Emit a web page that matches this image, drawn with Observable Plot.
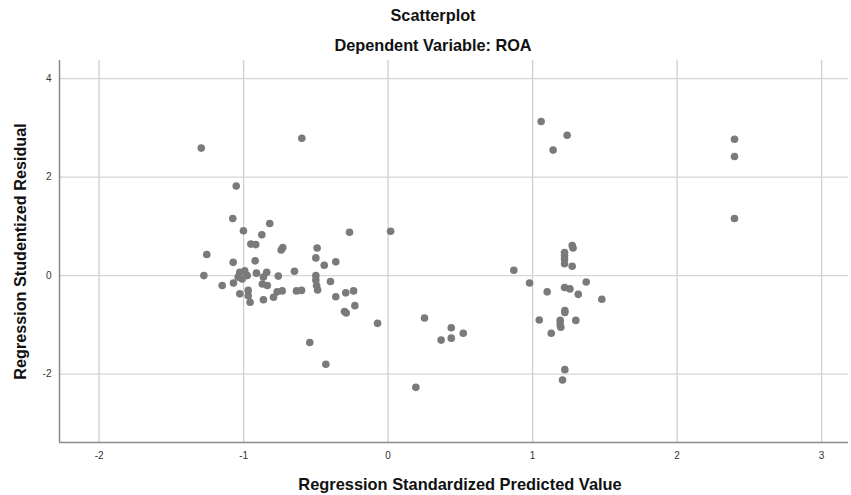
<!DOCTYPE html>
<html>
<head>
<meta charset="utf-8">
<script src="https://cdn.jsdelivr.net/npm/d3@7"></script>
<script src="https://cdn.jsdelivr.net/npm/@observablehq/plot@0.6"></script>
<style>
  html, body { margin: 0; padding: 0; background: #fff; }
  #chart svg { display: block; }
</style>
</head>
<body>
<div id="chart"></div>
<script>
// Regression standardized predicted value (x) and studentized residual (y)
const predicted = [
  -1.293, -0.597, -1.051, -1.075, -1.001, -0.819, -0.874, -0.950, -0.916, -0.729,
  -0.740, -0.491, -0.267, 0.017, -1.255, -1.072, -0.920, -0.500, -0.442, -0.362,
  -0.648, -1.275, -1.148, -1.026, -0.992, -1.038, -0.975, -1.010, -0.911, -0.840,
  -0.863, -0.760, -1.070, -0.870, -0.836, -0.500, -0.500, -0.495, -0.488, -0.399,
  -0.634, -0.599, -0.768, -0.733, -1.026, -0.968, -0.968, -0.955, -0.863, -0.793,
  -0.362, -0.293, -0.239, -0.230, -0.302, -0.290, -0.542, -0.431, -0.073, 0.192,
  0.252, 0.437, 0.367, 0.437, 0.520,
  0.870, 0.979, 1.101, 1.046, 1.129, 1.223, 1.223, 1.191, 1.191, 1.195,
  1.299, 1.223, 1.207, 1.221, 1.258, 1.316, 1.371, 1.479, 1.221, 1.274,
  1.274, 1.280, 1.221, 1.221, 1.221, 1.059, 1.239, 1.142, 2.397, 2.397, 2.397
];
const residual = [
  2.59, 2.79, 1.82, 1.16, 0.91, 1.06, 0.83, 0.64, 0.63, 0.57,
  0.52, 0.56, 0.88, 0.90, 0.43, 0.27, 0.30, 0.36, 0.21, 0.28,
  0.09, 0.00, -0.20, 0.07, 0.10, -0.03, 0.00, -0.07, 0.05, 0.07,
  -0.03, -0.01, -0.15, -0.17, -0.20, 0.00, -0.09, -0.20, -0.29, -0.12,
  -0.31, -0.30, -0.33, -0.31, -0.37, -0.30, -0.41, -0.54, -0.49, -0.44,
  -0.43, -0.35, -0.31, -0.61, -0.73, -0.76, -1.36, -1.80, -0.97, -2.27,
  -0.86, -1.06, -1.31, -1.27, -1.17,
  0.11, -0.15, -0.33, -0.90, -1.17, -0.71, -0.75, -0.91, -0.99, -1.05,
  -0.91, -1.91, -2.12, -0.24, -0.27, -0.38, -0.13, -0.48, 0.24, 0.19,
  0.61, 0.56, 0.47, 0.41, 0.34, 3.13, 2.85, 2.55, 2.77, 2.42, 1.16
];
const xTicks = [-2, -1, 0, 1, 2, 3];
const yTicks = [-2, 0, 2, 4];
const xDomain = [-2.274, 3.186];
const yDomain = [-3.39, 4.37];
const titleText = ["Scatterplot"];
const subtitleText = ["Dependent Variable: ROA"];
const xLabel = ["Regression Standardized Predicted Value"];
const yLabel = ["Regression Studentized Residual"];

const points = predicted.map((x, i) => ({x, y: residual[i]}));
const font = "Liberation Sans, Arial, sans-serif";
const fmt = d => String(d); // plain hyphen-minus like the reference

const chart = Plot.plot({
  width: 851,
  height: 495,
  marginLeft: 59,
  marginRight: 3,
  marginTop: 60,
  marginBottom: 53,
  style: {fontFamily: font, background: "#fff", color: "#333"},
  x: {domain: xDomain, ticks: xTicks},
  y: {domain: yDomain, ticks: yTicks},
  marks: [
    Plot.gridX(xTicks, {stroke: "#cfcfcf", strokeOpacity: 1, strokeWidth: 1.3}),
    Plot.gridY(yTicks, {stroke: "#d6d6d6", strokeOpacity: 1, strokeWidth: 1.3}),
    Plot.ruleX([xDomain[0]], {stroke: "#8a8a8a", strokeWidth: 1.5}),
    Plot.ruleY([yDomain[0]], {stroke: "#8a8a8a", strokeWidth: 1.5}),
    Plot.axisX(xTicks, {tickSize: 0, tickPadding: 9, fontSize: 10, label: null, fill: "#333", tickFormat: fmt}),
    Plot.axisY(yTicks, {tickSize: 0, tickPadding: 8, fontSize: 10, label: null, fill: "#333", tickFormat: fmt}),
    Plot.dot(points, {x: "x", y: "y", r: 3.8, fill: "#7a7a7a", stroke: "none"}),
    Plot.text(titleText, {text: d => d, frameAnchor: "top", lineAnchor: "middle", dx: -21, dy: -45, fontSize: 16.3, fontWeight: "bold", fill: "#111"}),
    Plot.text(subtitleText, {text: d => d, frameAnchor: "top", lineAnchor: "middle", dx: -21, dy: -15, fontSize: 16.3, fontWeight: "bold", fill: "#111"}),
    Plot.text(xLabel, {text: d => d, frameAnchor: "bottom", lineAnchor: "middle", dx: 6, dy: 42, fontSize: 16.4, fontWeight: "bold", fill: "#111"}),
    Plot.text(yLabel, {text: d => d, frameAnchor: "left", textAnchor: "middle", dx: -39, rotate: -90, fontSize: 16.2, fontWeight: "bold", fill: "#111"})
  ]
});
document.getElementById("chart").appendChild(chart);
</script>
</body>
</html>
